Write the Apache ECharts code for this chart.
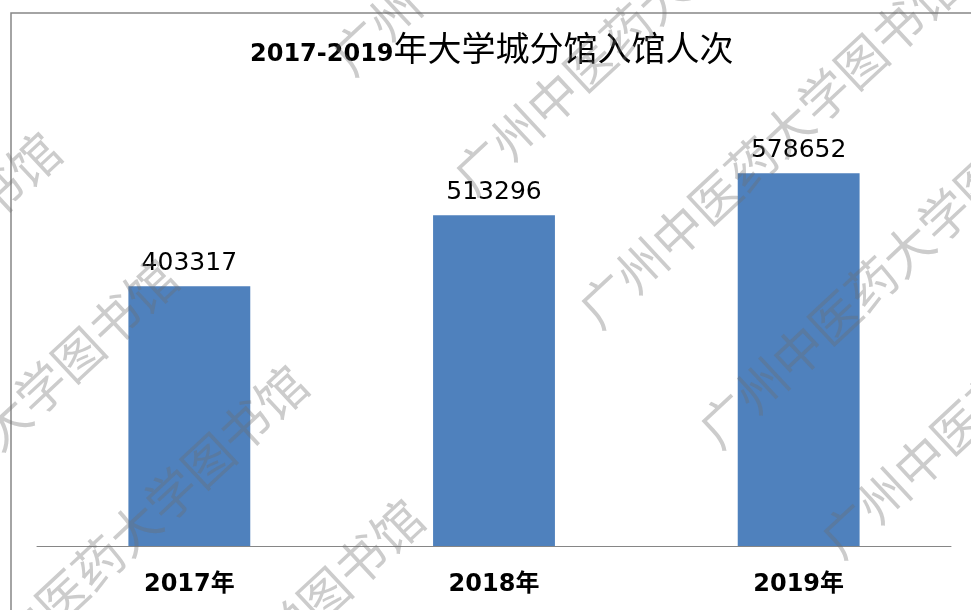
<!DOCTYPE html>
<html>
<head>
<meta charset="utf-8">
<script src="https://cdn.jsdelivr.net/npm/echarts@6/dist/echarts.min.js"></script>
<style>
  html, body { margin: 0; padding: 0; background: #fff; }
  #main { width: 971px; height: 610px; }
</style>
</head>
<body>
<div id="main"></div>
<script>
const years = ['2017年', '2018年', '2019年'];
const visits = [403317, 513296, 578652];
const titleYears = '2017-2019';
const titleRest = '年大学城分馆入馆人次';
const watermark = '广州中医药大学图书馆';

// watermark rows: centre of the first glyph of each row
const markStarts = [
  [358, 47], [480, 167], [605, 300], [725, 420], [847, 530],
  [-295, 466], [-178, 593], [-48, 699], [68, 833]
];

const chart = echarts.init(document.getElementById('main'));
const angle = 43 * Math.PI / 180;
const half = 25;

const marks = markStarts.map(p => ({
  type: 'text',
  x: p[0] - half * Math.cos(angle),
  y: p[1] + half * Math.sin(angle),
  rotation: angle,
  z: 100,
  silent: true,
  style: {
    text: watermark,
    fontSize: 50,
    fontFamily: 'Noto Sans CJK SC',
    fill: 'rgba(110,110,110,0.35)',
    align: 'left',
    verticalAlign: 'middle'
  }
}));

chart.setOption({
  animation: false,
  backgroundColor: '#fff',
  title: {
    text: '{a|' + titleYears + '}{b|' + titleRest + '}',
    left: 245,
    top: 26,
    textStyle: {
      rich: {
        a: { fontFamily: 'DejaVu Sans', fontWeight: 'bold', fontSize: 24, color: '#000' },
        b: {
          fontFamily: 'Noto Sans CJK SC', fontWeight: 'normal', fontSize: 34, color: '#000',
          padding: [0, 0, 14, 0]
        }
      }
    }
  },
  grid: { left: 37, right: 20, top: 95, bottom: 64 },
  xAxis: {
    type: 'category',
    data: years,
    axisLine: { lineStyle: { color: '#868686', width: 1 } },
    axisTick: { show: false },
    axisLabel: {
      fontFamily: 'DejaVu Sans, Noto Sans CJK SC',
      fontWeight: 'bold',
      fontSize: 24,
      color: '#000',
      margin: 27
    }
  },
  yAxis: {
    type: 'value',
    min: 0,
    max: 700000,
    show: false
  },
  graphic: [
    {
      type: 'rect',
      silent: true,
      z: 0,
      shape: { x: 11, y: 13, width: 1000, height: 700 },
      style: { fill: 'none', stroke: '#868686', lineWidth: 1.5 }
    }
  ].concat(marks),
  series: [{
    type: 'bar',
    data: visits,
    barWidth: '40%',
    itemStyle: { color: '#4F81BD' },
    label: {
      show: true,
      position: 'top',
      distance: 10,
      fontFamily: 'DejaVu Sans',
      fontSize: 25,
      color: '#000'
    }
  }]
});
</script>
</body>
</html>
